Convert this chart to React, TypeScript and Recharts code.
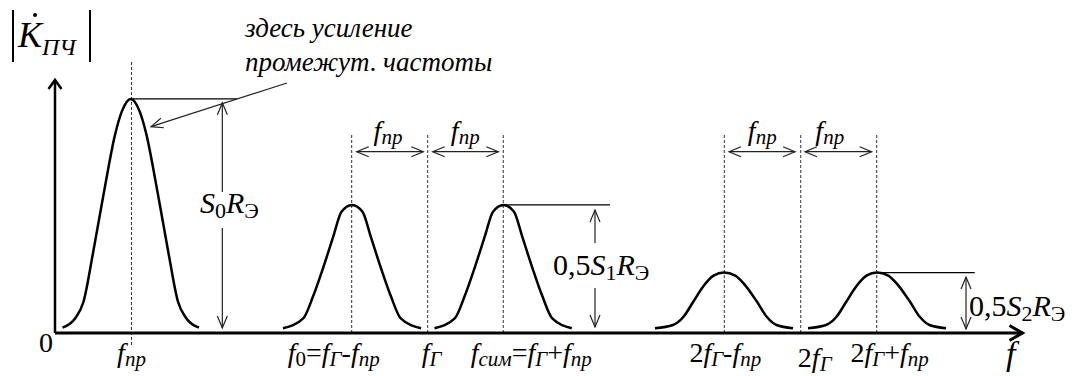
import React from 'react';
import { ComposedChart, Line, XAxis, YAxis, ReferenceLine, ReferenceDot } from 'recharts';

const FONT = '"Liberation Serif", "Times New Roman", serif';

// ---- curve data: x in units of f_пр, y relative to S0·RЭ ----
const ifX = [0.10, 0.27, 0.38, 0.51, 0.67, 0.80, 0.89, 1.01, 1.13, 1.22, 1.35, 1.51, 1.64, 1.75, 1.92];
const ifY = [0.023, 0.063, 0.133, 0.346, 0.630, 0.843, 0.942, 0.996, 0.942, 0.843, 0.630, 0.346, 0.133, 0.063, 0.023];
const mainX = [3.04, 3.31, 3.44, 3.58, 3.71, 3.82, 3.96, 4.10, 4.21, 4.34, 4.48, 4.61, 4.88];
const mainY = [0.020, 0.062, 0.155, 0.282, 0.410, 0.516, 0.545, 0.516, 0.410, 0.282, 0.155, 0.062, 0.020];
const imageX = [5.06, 5.33, 5.46, 5.60, 5.73, 5.84, 5.98, 6.12, 6.23, 6.36, 6.50, 6.63, 6.89];
const imageY = [0.020, 0.062, 0.155, 0.282, 0.410, 0.516, 0.545, 0.516, 0.410, 0.282, 0.155, 0.062, 0.020];
const h2lowX = [8.00, 8.24, 8.38, 8.51, 8.64, 8.78, 8.92, 9.07, 9.20, 9.36, 9.49, 9.62, 9.84];
const h2lowY = [0.020, 0.034, 0.069, 0.133, 0.197, 0.244, 0.257, 0.244, 0.204, 0.133, 0.069, 0.034, 0.020];
const h2highX = [10.04, 10.28, 10.42, 10.55, 10.68, 10.82, 10.96, 11.11, 11.24, 11.40, 11.53, 11.66, 11.88];
const h2highY = [0.020, 0.034, 0.069, 0.133, 0.197, 0.244, 0.257, 0.244, 0.204, 0.133, 0.069, 0.034, 0.020];

// ---- axis ticks ----
const tickValues = [1.02, 3.956, 4.969, 5.977, 8.924, 9.943, 10.956];
const tickLabels = ['f_{пр}', 'f_{0}=f_{Г}-f_{пр}', 'f_{Г}', 'f_{сим}=f_{Г}+f_{пр}', '2f_{Г}-f_{пр}', '2f_{Г}', '2f_{Г}+f_{пр}'];
const yTicks = [0];
const xMax = 12.9;
const yMax = 1.1489;

// ---- annotations (data coordinates) ----
const dashTops = [1.153, 0.843, 0.843, 0.843, 0.843, 0.843, 0.843];
const dashBottoms = [-0.051, 0, 0, 0, 0, 0, 0];
const spacingArrows: [number, number][] = [[4.023, 4.911], [5.036, 5.911], [8.987, 9.867], [10.0, 10.889]];
const spacingY = 0.7715;
const spacingLabelX = [4.44, 5.47, 9.43, 10.33];
const spacingLabelY = 0.821;
const levelLines: [number, number, number][] = [[1.02, 2.427, 0.996], [5.977, 7.4, 0.545], [10.956, 12.263, 0.257]];
// [x, fromY, toY] single-headed dimension arrows
const dimArrows: [number, number, number][] = [[2.231, 0.600, 0.98], [2.231, 0.447, 0.021], [7.2, 0.383, 0.523], [7.2, 0.191, 0.0255]];
const dimBoth: [number, number, number] = [12.147, 0.017, 0.238];
const leader: [[number, number], [number, number]] = [[3.093, 1.064], [1.28, 0.878]];
const yAxisTop = 1.077;
const gainLabels = ['S_{0}R_{Э}', '0,5S_{1}R_{Э}', '0,5S_{2}R_{Э}'];
const gainLabelPos: [number, number][] = [[1.933, 0.511], [6.64, 0.247], [12.187, 0.072]];
const noteLines = ['здесь усиление', 'промежут. частоты'];
const notePos: [number, number][] = [[2.533, 1.26], [2.533, 1.115]];
const yTitle = 'K_{ПЧ}';
const yTitlePos: [number, number] = [-0.493, 1.217];
const xTitle = 'f';
const xTitlePos: [number, number] = [12.68, -0.136];

const pts = (xs: number[], ys: number[]) => xs.map((x, i) => ({ x, y: ys[i] }));
const curves = [pts(ifX, ifY), pts(mainX, mainY), pts(imageX, imageY), pts(h2lowX, h2lowY), pts(h2highX, h2highY)];

// ---- rich text ----
const isItalic = (ch: string) => /[A-Za-zА-Яа-яЁё]/.test(ch) && ch !== 'Э';
type Run = { t: string; sub: boolean; it: boolean };
function parseRuns(text: string): Run[] {
  const chars: Run[] = [];
  let i = 0;
  while (i < text.length) {
    if (text.startsWith('_{', i)) {
      const j = text.indexOf('}', i);
      for (const ch of text.slice(i + 2, j)) chars.push({ t: ch, sub: true, it: isItalic(ch) });
      i = j + 1;
    } else {
      const ch = text[i];
      chars.push({ t: ch, sub: false, it: isItalic(ch) });
      i++;
    }
  }
  const out: Run[] = [];
  for (const c of chars) {
    const last = out[out.length - 1];
    if (last && last.sub === c.sub && last.it === c.it) last.t += c.t;
    else out.push({ ...c });
  }
  return out;
}

function Rich({ x, y, text, size = 28, sub = 21, shift = 4, anchor = 'start' }: any) {
  const runs = parseRuns(text);
  let cur = 0;
  return (
    <text x={x} y={y} fontFamily={FONT} fontSize={size} textAnchor={anchor} fill="#000" style={{ whiteSpace: 'pre' }}>
      {runs.map((r, k) => {
        const target = r.sub ? shift : 0;
        const dy = target - cur;
        cur = target;
        return (
          <tspan key={k} dy={dy} fontSize={r.sub ? sub : size} fontStyle={r.it ? 'italic' : 'normal'}>
            {r.t}
          </tspan>
        );
      })}
    </text>
  );
}

// ---- line shapes with open arrow heads ----
const arrowShape = (heads: 'none' | 'end' | 'both', width: number, len: number, half: number, dash?: string, color = '#000') =>
  (p: any) => {
    const { x1, y1, x2, y2 } = p;
    const dx = x2 - x1;
    const dy = y2 - y1;
    const L = Math.hypot(dx, dy) || 1;
    const ux = dx / L;
    const uy = dy / L;
    const nx = -uy;
    const ny = ux;
    const head = (tx: number, ty: number, sx: number, sy: number) => {
      const bx = tx - sx * len;
      const by = ty - sy * len;
      return (
        <polyline
          points={`${bx + nx * half},${by + ny * half} ${tx},${ty} ${bx - nx * half},${by - ny * half}`}
          fill="none"
          stroke={color}
          strokeWidth={width}
        />
      );
    };
    return (
      <g>
        <line x1={x1} y1={y1} x2={x2} y2={y2} stroke={color} strokeWidth={width} strokeDasharray={dash} />
        {heads !== 'none' && head(x2, y2, ux, uy)}
        {heads === 'both' && head(x1, y1, -ux, -uy)}
      </g>
    );
  };

const XTick = (props: any) => {
  const { x, y, payload } = props;
  const i = tickValues.indexOf(payload.value);
  const dxs = [0, -18, 4, 28, 1, 14, 13];
  const dys = [0, 0, 0, 0, 0, 5, 0];
  return <Rich x={x + dxs[i]} y={y + 29 + dys[i]} text={tickLabels[i]} anchor="middle" />;
};

const YTick = (props: any) => {
  const { x, y, payload } = props;
  return (
    <text x={x} y={y + 18.5} textAnchor="end" fontFamily={FONT} fontSize={28} fill="#000">
      {String(payload.value)}
    </text>
  );
};

const textDot = (text: string, opts: any = {}) => (p: any) => <Rich x={p.cx} y={p.cy} text={text} {...opts} />;

const yTitleShape = (p: any) => {
  const { cx, cy } = p;
  return (
    <g>
      <line x1={cx - 5} y1={cy - 37} x2={cx - 5} y2={cy + 15} stroke="#000" strokeWidth={2} />
      <line x1={cx + 72} y1={cy - 37} x2={cx + 72} y2={cy + 15} stroke="#000" strokeWidth={2} />
      <circle cx={cx + 17} cy={cy - 32} r={2} fill="#000" />
      <Rich x={cx} y={cy} text={yTitle} size={36} sub={24} shift={8} />
    </g>
  );
};

export default function App() {
  const thin = 1.2;
  return (
    <div style={{ position: 'absolute', left: 0, top: 0, width: 1079, height: 376, background: '#fff' }}>
      <ComposedChart width={1079} height={376} margin={{ top: 63, right: 56.5, bottom: 13, left: 15 }}>
        <XAxis
          type="number"
          dataKey="x"
          domain={[0, xMax]}
          ticks={tickValues}
          interval={0}
          tick={<XTick />}
          tickLine={false}
          axisLine={false}
          tickSize={0}
          tickMargin={0}
          height={30}
          allowDataOverflow
        />
        <YAxis
          type="number"
          domain={[0, yMax]}
          ticks={yTicks}
          tick={<YTick />}
          tickLine={false}
          axisLine={false}
          tickSize={0}
          tickMargin={2}
          width={40}
          allowDataOverflow
        />

        {/* dashed frequency markers */}
        {tickValues.map((v, i) => (
          <ReferenceLine
            key={'d' + i}
            segment={[{ x: v, y: dashBottoms[i] }, { x: v, y: dashTops[i] }]}
            ifOverflow="visible"
            shape={arrowShape('none', 1, 0, 0, '3 2', '#333')}
          />
        ))}

        {/* level lines */}
        {levelLines.map(([a, b, yv], i) => (
          <ReferenceLine key={'l' + i} segment={[{ x: a, y: yv }, { x: b, y: yv }]} ifOverflow="visible" shape={arrowShape('none', thin, 0, 0)} />
        ))}

        {/* spacing arrows */}
        {spacingArrows.map(([a, b], i) => (
          <ReferenceLine key={'s' + i} segment={[{ x: a, y: spacingY }, { x: b, y: spacingY }]} ifOverflow="visible" shape={arrowShape('both', thin, 12, 5, undefined, '#222')} />
        ))}
        {spacingLabelX.map((v, i) => (
          <ReferenceDot key={'sl' + i} x={v} y={spacingLabelY} ifOverflow="visible" shape={textDot('f_{пр}', { anchor: 'middle' })} />
        ))}

        {/* dimension arrows */}
        {dimArrows.map(([xv, a, b], i) => (
          <ReferenceLine key={'a' + i} segment={[{ x: xv, y: a }, { x: xv, y: b }]} ifOverflow="visible" shape={arrowShape('end', thin, 12, 5, undefined, '#222')} />
        ))}
        <ReferenceLine segment={[{ x: dimBoth[0], y: dimBoth[1] }, { x: dimBoth[0], y: dimBoth[2] }]} ifOverflow="visible" shape={arrowShape('both', thin, 12, 5, undefined, '#222')} />
        <ReferenceLine segment={[{ x: leader[0][0], y: leader[0][1] }, { x: leader[1][0], y: leader[1][1] }]} ifOverflow="visible" shape={arrowShape('end', thin, 12, 5, undefined, '#222')} />

        {/* axes with arrows */}
        <ReferenceLine segment={[{ x: 0, y: 0 }, { x: 0, y: yAxisTop }]} ifOverflow="visible" shape={arrowShape('end', 2.5, 9, 6.5)} />
        <ReferenceLine segment={[{ x: 0, y: 0 }, { x: xMax, y: 0 }]} ifOverflow="visible" shape={arrowShape('end', 3, 13, 7.5)} />

        {/* curves */}
        {curves.map((c, i) => (
          <Line key={'c' + i} data={c} dataKey="y" type="monotone" stroke="#000" strokeWidth={2.5} dot={false} activeDot={false} isAnimationActive={false} />
        ))}

        {/* texts */}
        {gainLabels.map((t, i) => (
          <ReferenceDot key={'g' + i} x={gainLabelPos[i][0]} y={gainLabelPos[i][1]} ifOverflow="visible" shape={textDot(t, { size: 30, sub: 22, shift: 5 })} />
        ))}
        {noteLines.map((t, i) => (
          <ReferenceDot key={'n' + i} x={notePos[i][0]} y={notePos[i][1]} ifOverflow="visible" shape={textDot(t, { size: 27 })} />
        ))}
        <ReferenceDot x={yTitlePos[0]} y={yTitlePos[1]} ifOverflow="visible" shape={yTitleShape} />
        <ReferenceDot x={xTitlePos[0]} y={xTitlePos[1]} ifOverflow="visible" shape={textDot(xTitle, { size: 34 })} />
      </ComposedChart>
    </div>
  );
}
